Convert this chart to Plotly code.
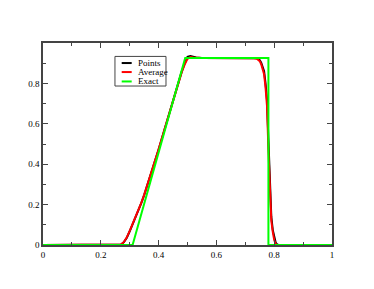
import plotly.graph_objects as go

# Exact solution
exact_x = [0.0, 0.31, 0.492, 0.78, 0.78, 1.0]
exact_y = [0.0, 0.0, 0.926, 0.926, 0.0, 0.0]

# Average (red)
avg_x = [0.0, 0.26, 0.27, 0.28, 0.29, 0.30, 0.31, 0.32, 0.33, 0.34, 0.35, 0.36, 0.37, 0.38,
         0.39, 0.40, 0.42, 0.44, 0.46, 0.47, 0.48, 0.49, 0.50, 0.51, 0.52, 0.55, 0.60, 0.70,
         0.73, 0.74, 0.745, 0.75, 0.755, 0.76, 0.765, 0.77, 0.775, 0.78, 0.785, 0.79, 0.795,
         0.80, 0.805, 0.81, 1.0]
avg_y = [0.0, 0.0, 0.002, 0.015, 0.038, 0.070, 0.103, 0.136, 0.171, 0.208, 0.248, 0.291,
         0.336, 0.382, 0.428, 0.474, 0.570, 0.668, 0.765, 0.812, 0.856, 0.893, 0.922, 0.930,
         0.928, 0.926, 0.926, 0.926, 0.925, 0.922, 0.918, 0.910, 0.895, 0.875, 0.845, 0.78,
         0.69, 0.47, 0.24, 0.12, 0.065, 0.025, 0.006, 0.0, 0.0]

# Points (black)
pts_x = [0.0, 0.26, 0.27, 0.28, 0.29, 0.30, 0.31, 0.32, 0.33, 0.34, 0.35, 0.36, 0.37, 0.38,
         0.39, 0.40, 0.42, 0.44, 0.46, 0.47, 0.48, 0.49, 0.50, 0.51, 0.52, 0.53, 0.55, 0.60,
         0.70, 0.73, 0.74, 0.745, 0.75, 0.755, 0.76, 0.765, 0.77, 0.775, 0.78, 0.785, 0.79,
         0.795, 0.80, 0.805, 0.81, 0.815, 1.0]
pts_y = [0.0, 0.0, 0.002, 0.014, 0.036, 0.068, 0.101, 0.135, 0.170, 0.207, 0.247, 0.290,
         0.335, 0.381, 0.427, 0.473, 0.569, 0.667, 0.764, 0.812, 0.858, 0.898, 0.932, 0.936,
         0.932, 0.928, 0.926, 0.926, 0.926, 0.926, 0.924, 0.921, 0.915, 0.903, 0.885, 0.86,
         0.80, 0.72, 0.52, 0.28, 0.14, 0.075, 0.035, 0.012, 0.003, 0.0, 0.0]

x_ticks = [0, 0.2, 0.4, 0.6, 0.8, 1]
x_tick_labels = ["0", "0.2", "0.4", "0.6", "0.8", "1"]
y_ticks = [0, 0.2, 0.4, 0.6, 0.8]
y_tick_labels = ["0", "0.2", "0.4", "0.6", "0.8"]

series_names = ["Points", "Average", "Exact"]
series_colors = ["#000000", "#ff0000", "#00ff00"]

fig = go.Figure()
for name, xs, ys, col in zip(series_names, [pts_x, avg_x, exact_x], [pts_y, avg_y, exact_y],
                             series_colors):
    fig.add_trace(go.Scatter(x=xs, y=ys, mode="lines", name=name,
                             line=dict(color=col, width=2), showlegend=False))

axis_common = dict(
    showgrid=False, zeroline=False, showline=True, linecolor="#444444", linewidth=1.5,
    mirror="allticks", ticks="inside", ticklen=5, tickwidth=1, tickcolor="#444444",
    tickfont=dict(family="Liberation Serif", size=9, color="#000000"),
    minor=dict(ticks="inside", ticklen=3, tickwidth=1, tickcolor="#444444", dtick=0.1),
)

fig.update_xaxes(range=[0, 1], tickvals=x_ticks, ticktext=x_tick_labels, **axis_common)
fig.update_yaxes(range=[0, 1], tickvals=y_ticks, ticktext=y_tick_labels, **axis_common)

# Legend drawn in xmgrace style
shapes = [dict(type="rect", xref="paper", yref="paper", x0=0.249, x1=0.4256, y0=0.787, y1=0.9336,
               line=dict(color="#444444", width=1), fillcolor="white", layer="above")]
annotations = []
row_y = [0.9008, 0.8562, 0.8096]
for name, col, yy in zip(series_names, series_colors, row_y):
    shapes.append(dict(type="line", xref="paper", yref="paper", x0=0.2723, x1=0.3069,
                       y0=yy, y1=yy, line=dict(color=col, width=2), layer="above"))
    annotations.append(dict(xref="paper", yref="paper", x=0.3208, y=yy, text=name,
                            showarrow=False, xanchor="left", yanchor="middle",
                            font=dict(family="Liberation Serif", size=9, color="#000000")))

fig.update_layout(
    width=374, height=289,
    margin=dict(l=35, r=50, t=35, b=52),
    paper_bgcolor="white", plot_bgcolor="white",
    showlegend=False,
    shapes=shapes, annotations=annotations,
)

fig.write_html("out.html")
